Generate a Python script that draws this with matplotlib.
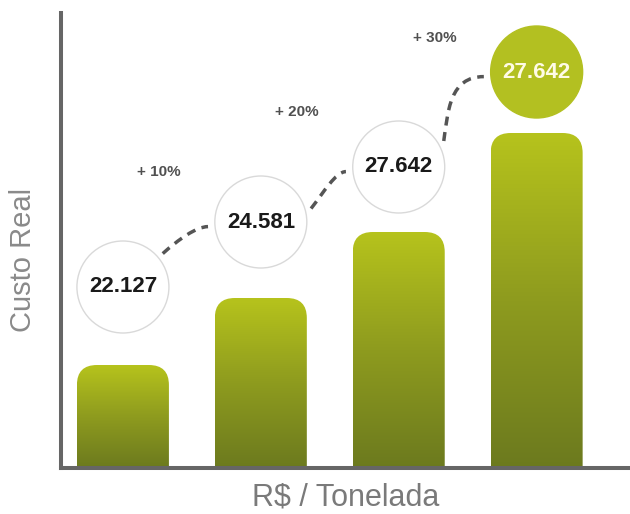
import numpy as np
import matplotlib
matplotlib.use("Agg")
import matplotlib.pyplot as plt
from matplotlib.colors import LinearSegmentedColormap
from matplotlib.patches import FancyBboxPatch, PathPatch
from matplotlib.path import Path

# Chart data
values = ["22.127", "24.581", "27.642", "27.642"]
increases = ["+ 10%", "+ 20%", "+ 30%"]
bar_heights = [103, 170, 236, 335]      # relative bar height
bubble_levels = [181, 246, 301, 396]    # height of the value bubbles
xlabel = "R$ / Tonelada"
ylabel = "Custo Real"

W, H, DPI = 630, 514, 100
FONT = "Liberation Sans"
GREEN = "#b3c021"
bar_cmap = LinearSegmentedColormap.from_list("olive", ["#6c7a1e", "#8e9b1f", "#b6c31c"])

fig = plt.figure(figsize=(W / DPI, H / DPI), dpi=DPI)
fig.patch.set_facecolor("white")
ax = fig.add_axes([61 / W, 46 / H, 569 / W, 455 / H])
XLIM = (-0.449, 3.677)
YLIM = (0, 455)
ax.set_xlim(*XLIM)
ax.set_ylim(*YLIM)

# px per data unit, so rounded corners and offsets stay round on screen
px_x = 569 / (XLIM[1] - XLIM[0])
px_y = 455 / (YLIM[1] - YLIM[0])

bw = 92 / px_x
r_px = 20
for i, h in enumerate(bar_heights):
    x0 = i - bw / 2
    patch = FancyBboxPatch((x0, -r_px / px_y), bw, h + r_px / px_y,
                           boxstyle=f"round,pad=0,rounding_size={r_px / px_x}",
                           mutation_aspect=px_x / px_y,
                           facecolor="none", edgecolor="none", zorder=2)
    ax.add_patch(patch)
    grad = np.linspace(0, 1, 256).reshape(-1, 1)
    im = ax.imshow(grad, extent=(x0, x0 + bw, 0, h), cmap=bar_cmap, origin="lower",
                   aspect="auto", interpolation="bicubic", zorder=2)
    im.set_clip_path(patch)

ax.set_xlim(*XLIM)
ax.set_ylim(*YLIM)

# dashed connectors between bubbles (computed in screen pixels)
to_px = ax.transData.transform
to_data = ax.transData.inverted().transform
centers = to_px(np.column_stack([np.arange(len(values)), bubble_levels]))
exit_angle = [40, 15, 30]
start_dir = [42, 52, 82]
end_pull = [0.22, 0.2, 0.45]
for i in range(len(values) - 1):
    c0, c1 = centers[i], centers[i + 1]
    a = np.radians(exit_angle[i])
    S = c0 + 52 * np.array([np.cos(a), np.sin(a)])
    b = np.radians(185)
    E = c1 + 53 * np.array([np.cos(b), np.sin(b)])
    chord = np.linalg.norm(E - S)
    d = np.radians(start_dir[i])
    P1 = S + 0.4 * chord * np.array([np.cos(d), np.sin(d)])
    P2 = E - np.array([end_pull[i] * chord, 0])
    verts = to_data(np.array([S, P1, P2, E]))
    path = Path(verts, [Path.MOVETO, Path.CURVE4, Path.CURVE4, Path.CURVE4])
    ax.add_patch(PathPatch(path, facecolor="none", edgecolor="#555555", lw=2.5,
                           linestyle=(0, (2.6, 1.9)), capstyle="butt", zorder=2.5))

# value bubbles
bubble_s = (2 * 46 * 72 / DPI) ** 2
faces = ["white"] * (len(values) - 1) + [GREEN]
edges = ["#d9d9d9"] * (len(values) - 1) + [GREEN]
ax.scatter(np.arange(len(values)), bubble_levels, s=bubble_s, facecolors=faces,
           edgecolors=edges, linewidths=1.0, zorder=3)
for i, (v, lvl) in enumerate(zip(values, bubble_levels)):
    last = i == len(values) - 1
    ax.text(i, lvl, v, ha="center", va="center", fontsize=16, fontweight="bold",
            family=FONT, color="#fffbe6" if last else "#1a1a1a", zorder=4)

# growth labels above each connector
for i, lab in enumerate(increases):
    mx = (centers[i][0] + centers[i + 1][0]) / 2 - 33
    my = (centers[i][1] + centers[i + 1][1]) / 2 + 82
    tx, ty = to_data([mx, my])
    ax.text(tx, ty, lab, ha="center", va="center", fontsize=11, fontweight="bold",
            family=FONT, color="#505050", zorder=4)

# axes
for side in ("top", "right"):
    ax.spines[side].set_visible(False)
for side in ("left", "bottom"):
    ax.spines[side].set_linewidth(2.9)
    ax.spines[side].set_color("#666666")
ax.tick_params(left=False, bottom=False, labelleft=False, labelbottom=False)

fig.text(23 / W, 1 - 260 / H, ylabel, rotation=90, ha="center", va="center",
         fontsize=21, family=FONT, color="#8a8a8a")
fig.text(346 / W, 1 - 498 / H, xlabel, ha="center", va="center",
         fontsize=22, family=FONT, color="#7a7a7a")

fig.savefig("out.png", dpi=DPI, facecolor="white")
